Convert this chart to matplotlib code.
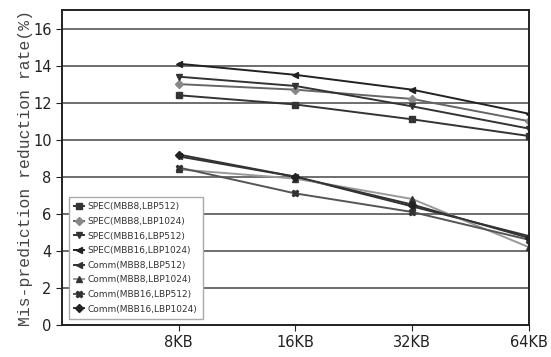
import matplotlib
matplotlib.use("Agg")
import matplotlib.pyplot as plt

sizes = ["8KB", "16KB", "32KB", "64KB"]

spec_mbb8_lbp512 = [12.4, 11.9, 11.1, 10.2]
spec_mbb8_lbp1024 = [13.0, 12.7, 12.2, 11.0]
spec_mbb16_lbp512 = [13.4, 12.9, 11.8, 10.6]
spec_mbb16_lbp1024 = [14.1, 13.5, 12.7, 11.4]
comm_mbb8_lbp512 = [9.1, 8.0, 6.4, 4.8]
comm_mbb8_lbp1024 = [8.4, 7.9, 6.8, 4.2]
comm_mbb16_lbp512 = [8.5, 7.1, 6.1, 4.6]
comm_mbb16_lbp1024 = [9.2, 8.0, 6.5, 4.7]

series = [
    ("SPEC(MBB8,LBP512)", spec_mbb8_lbp512, "s", 5, "#333333", "#333333"),
    ("SPEC(MBB8,LBP1024)", spec_mbb8_lbp1024, "D", 4, "#666666", "#888888"),
    ("SPEC(MBB16,LBP512)", spec_mbb16_lbp512, "v", 5, "#333333", "#333333"),
    ("SPEC(MBB16,LBP1024)", spec_mbb16_lbp1024, "<", 5, "#222222", "#222222"),
    ("Comm(MBB8,LBP512)", comm_mbb8_lbp512, "<", 5, "#333333", "#333333"),
    ("Comm(MBB8,LBP1024)", comm_mbb8_lbp1024, "^", 5, "#999999", "#333333"),
    ("Comm(MBB16,LBP512)", comm_mbb16_lbp512, "X", 5, "#555555", "#333333"),
    ("Comm(MBB16,LBP1024)", comm_mbb16_lbp1024, "D", 4, "#333333", "#222222"),
]

fig = plt.figure(figsize=(5.51, 3.57), dpi=100)
ax = fig.add_axes([0.1125, 0.0896, 0.8475, 0.8824])

x = list(range(1, len(sizes) + 1))
for label, vals, marker, ms, lc, mc in series:
    ax.plot(x, vals, color=lc, linewidth=1.4, marker=marker, markersize=ms,
            markerfacecolor=mc, markeredgecolor=mc, label=label)

ax.set_xlim(0, 4)
ax.set_ylim(0, 17)
ax.set_yticks(range(0, 17, 2))
ax.set_xticks(x)
ax.set_xticklabels(sizes)
ax.tick_params(axis="both", labelsize=10.5, colors="#222222", length=4)
ax.yaxis.grid(True, color="#555555", linewidth=1.2)
ax.set_axisbelow(True)
for side in ["left", "bottom", "right", "top"]:
    ax.spines[side].set_color("#222222")
    ax.spines[side].set_linewidth(1.4)

ax.set_ylabel("Mis-prediction reduction rate(%)", family="Liberation Mono",
              fontsize=11.8, color="#444444", labelpad=0)

leg = ax.legend(loc="lower left", fontsize=6.5, frameon=True, fancybox=False,
                edgecolor="#aaaaaa", framealpha=1, handlelength=1.1,
                handletextpad=0.4, labelspacing=0.62, borderpad=0.6,
                bbox_to_anchor=(0.005, 0.005))
for t in leg.get_texts():
    t.set_color("#333333")

fig.savefig("out.png", dpi=100)
